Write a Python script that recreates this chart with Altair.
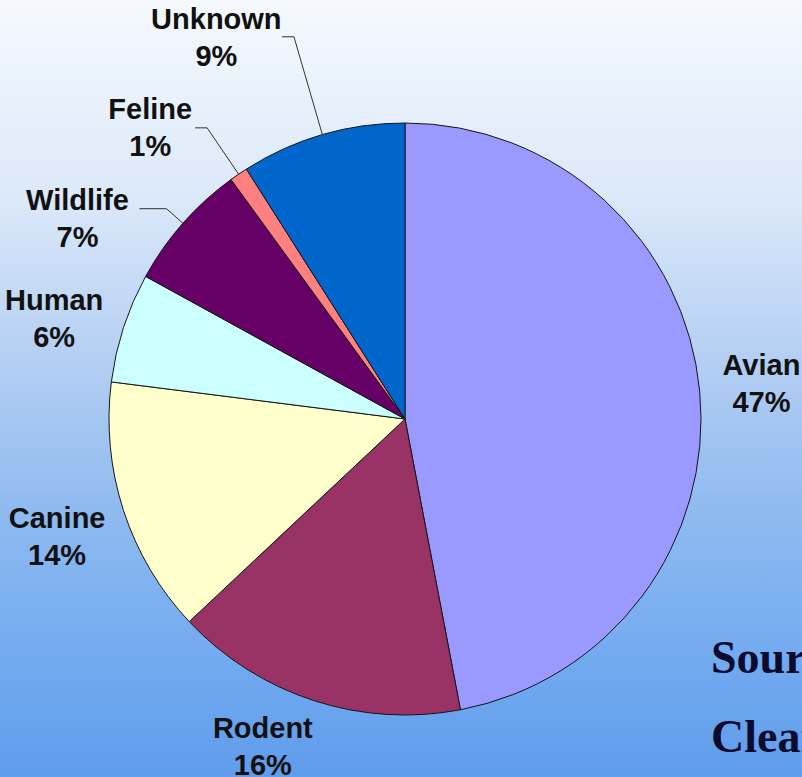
import math
import altair as alt
import pandas as pd

# ---- data ----
categories = ["Avian", "Rodent", "Canine", "Human", "Wildlife", "Feline", "Unknown"]
percents = [47, 16, 14, 6, 7, 1, 9]
colors = ["#9999FF", "#993366", "#FFFFCC", "#CCFFFF", "#660066", "#FF8080", "#0066CC"]
source_lines = ["Sour", "Clear"]

# ---- layout / style ----
W, H = 802, 777
CX, CY = 405, 419
R = 296
LABEL_R = 350
label_offsets = {
    "Avian": (8, -20), "Rodent": (-34, -23), "Canine": (-15, -8), "Human": (-18, -10),
    "Wildlife": (-65, 13), "Feline": (-58, -20), "Unknown": (-91, -63),
}
# leader lines: (elbow radius, horizontal length)
leaders = {"Unknown": (398, 12), "Feline": (352, 12), "Wildlife": (318, 27)}

total = sum(percents)
df = pd.DataFrame({"cat": categories, "pct": percents, "idx": list(range(len(categories)))})
df["mid"] = df["pct"].cumsum() - df["pct"] / 2
df["label"] = df["cat"] + "\n" + df["pct"].astype(str) + "%"

theta_scale = alt.Scale(domain=[0, total], range=[0, 2 * math.pi])

# background gradient
bg = alt.Chart(pd.DataFrame({"a": [0]})).mark_rect(
    fill=alt.Gradient(
        gradient="linear",
        stops=[
            alt.GradientStop(color="#f5f9fd", offset=0),
            alt.GradientStop(color="#dce9f9", offset=0.25),
            alt.GradientStop(color="#b6d0f3", offset=0.45),
            alt.GradientStop(color="#90bbf0", offset=0.65),
            alt.GradientStop(color="#72aaf0", offset=0.85),
            alt.GradientStop(color="#5f9cec", offset=1),
        ],
        x1=0, x2=0, y1=0, y2=1,
    )
).encode(x=alt.value(0), x2=alt.value(W), y=alt.value(0), y2=alt.value(H))

pie = alt.Chart(df).mark_arc(radius=R, stroke="#151515", strokeWidth=1).encode(
    theta=alt.Theta("pct:Q", stack=True, scale=theta_scale),
    color=alt.Color("cat:N", scale=alt.Scale(domain=categories, range=colors), legend=None),
    order=alt.Order("idx:Q"),
    x=alt.value(CX),
    y=alt.value(CY),
)

# leader lines
rows = []
for c, (re_, h) in leaders.items():
    m = float(df.loc[df.cat == c, "mid"].iloc[0])
    a = m / total * 2 * math.pi
    p0 = (CX + R * math.sin(a), CY - R * math.cos(a))
    p1 = (CX + re_ * math.sin(a), CY - re_ * math.cos(a))
    p2 = (p1[0] - h, p1[1])
    for k, p in enumerate([p0, p1, p2]):
        rows.append({"cat": c, "step": k, "px": p[0], "py": p[1]})
lead_df = pd.DataFrame(rows)
lead = alt.Chart(lead_df).mark_line(color="#333333", strokeWidth=1).encode(
    x=alt.X("px:Q", scale=None, axis=None),
    y=alt.Y("py:Q", scale=None, axis=None),
    detail="cat:N",
    order="step:Q",
)

layers = [bg, pie, lead]
for c in categories:
    dx, dy = label_offsets[c]
    layers.append(
        alt.Chart(df).transform_filter(alt.datum.cat == c).mark_text(
            lineBreak="\n", lineHeight=37, font="Liberation Sans", fontWeight="bold",
            fontSize=29, color="#111111", align="center", baseline="middle", dx=dx, dy=dy,
        ).encode(
            theta=alt.Theta("mid:Q", scale=theta_scale),
            radius=alt.value(LABEL_R),
            x=alt.value(CX),
            y=alt.value(CY),
            text="label:N",
        )
    )

src_df = pd.DataFrame({"t": source_lines, "i": [0, 1]})
for i, t in enumerate(source_lines):
    layers.append(
        alt.Chart(src_df).transform_filter(alt.datum.i == i).mark_text(
            font="Liberation Serif", fontWeight="bold", fontSize=46, color="#0b0b2e",
            align="left", baseline="alphabetic",
        ).encode(x=alt.value(711), y=alt.value(673 + 79 * i), text="t:N")
    )

chart = alt.layer(*layers).properties(
    width=W, height=H, padding=0, autosize=alt.AutoSizeParams(type="none")
).configure_view(stroke=None).resolve_scale(theta="independent")

chart.save("out.html", embed_options={"renderer": "svg", "actions": False})
